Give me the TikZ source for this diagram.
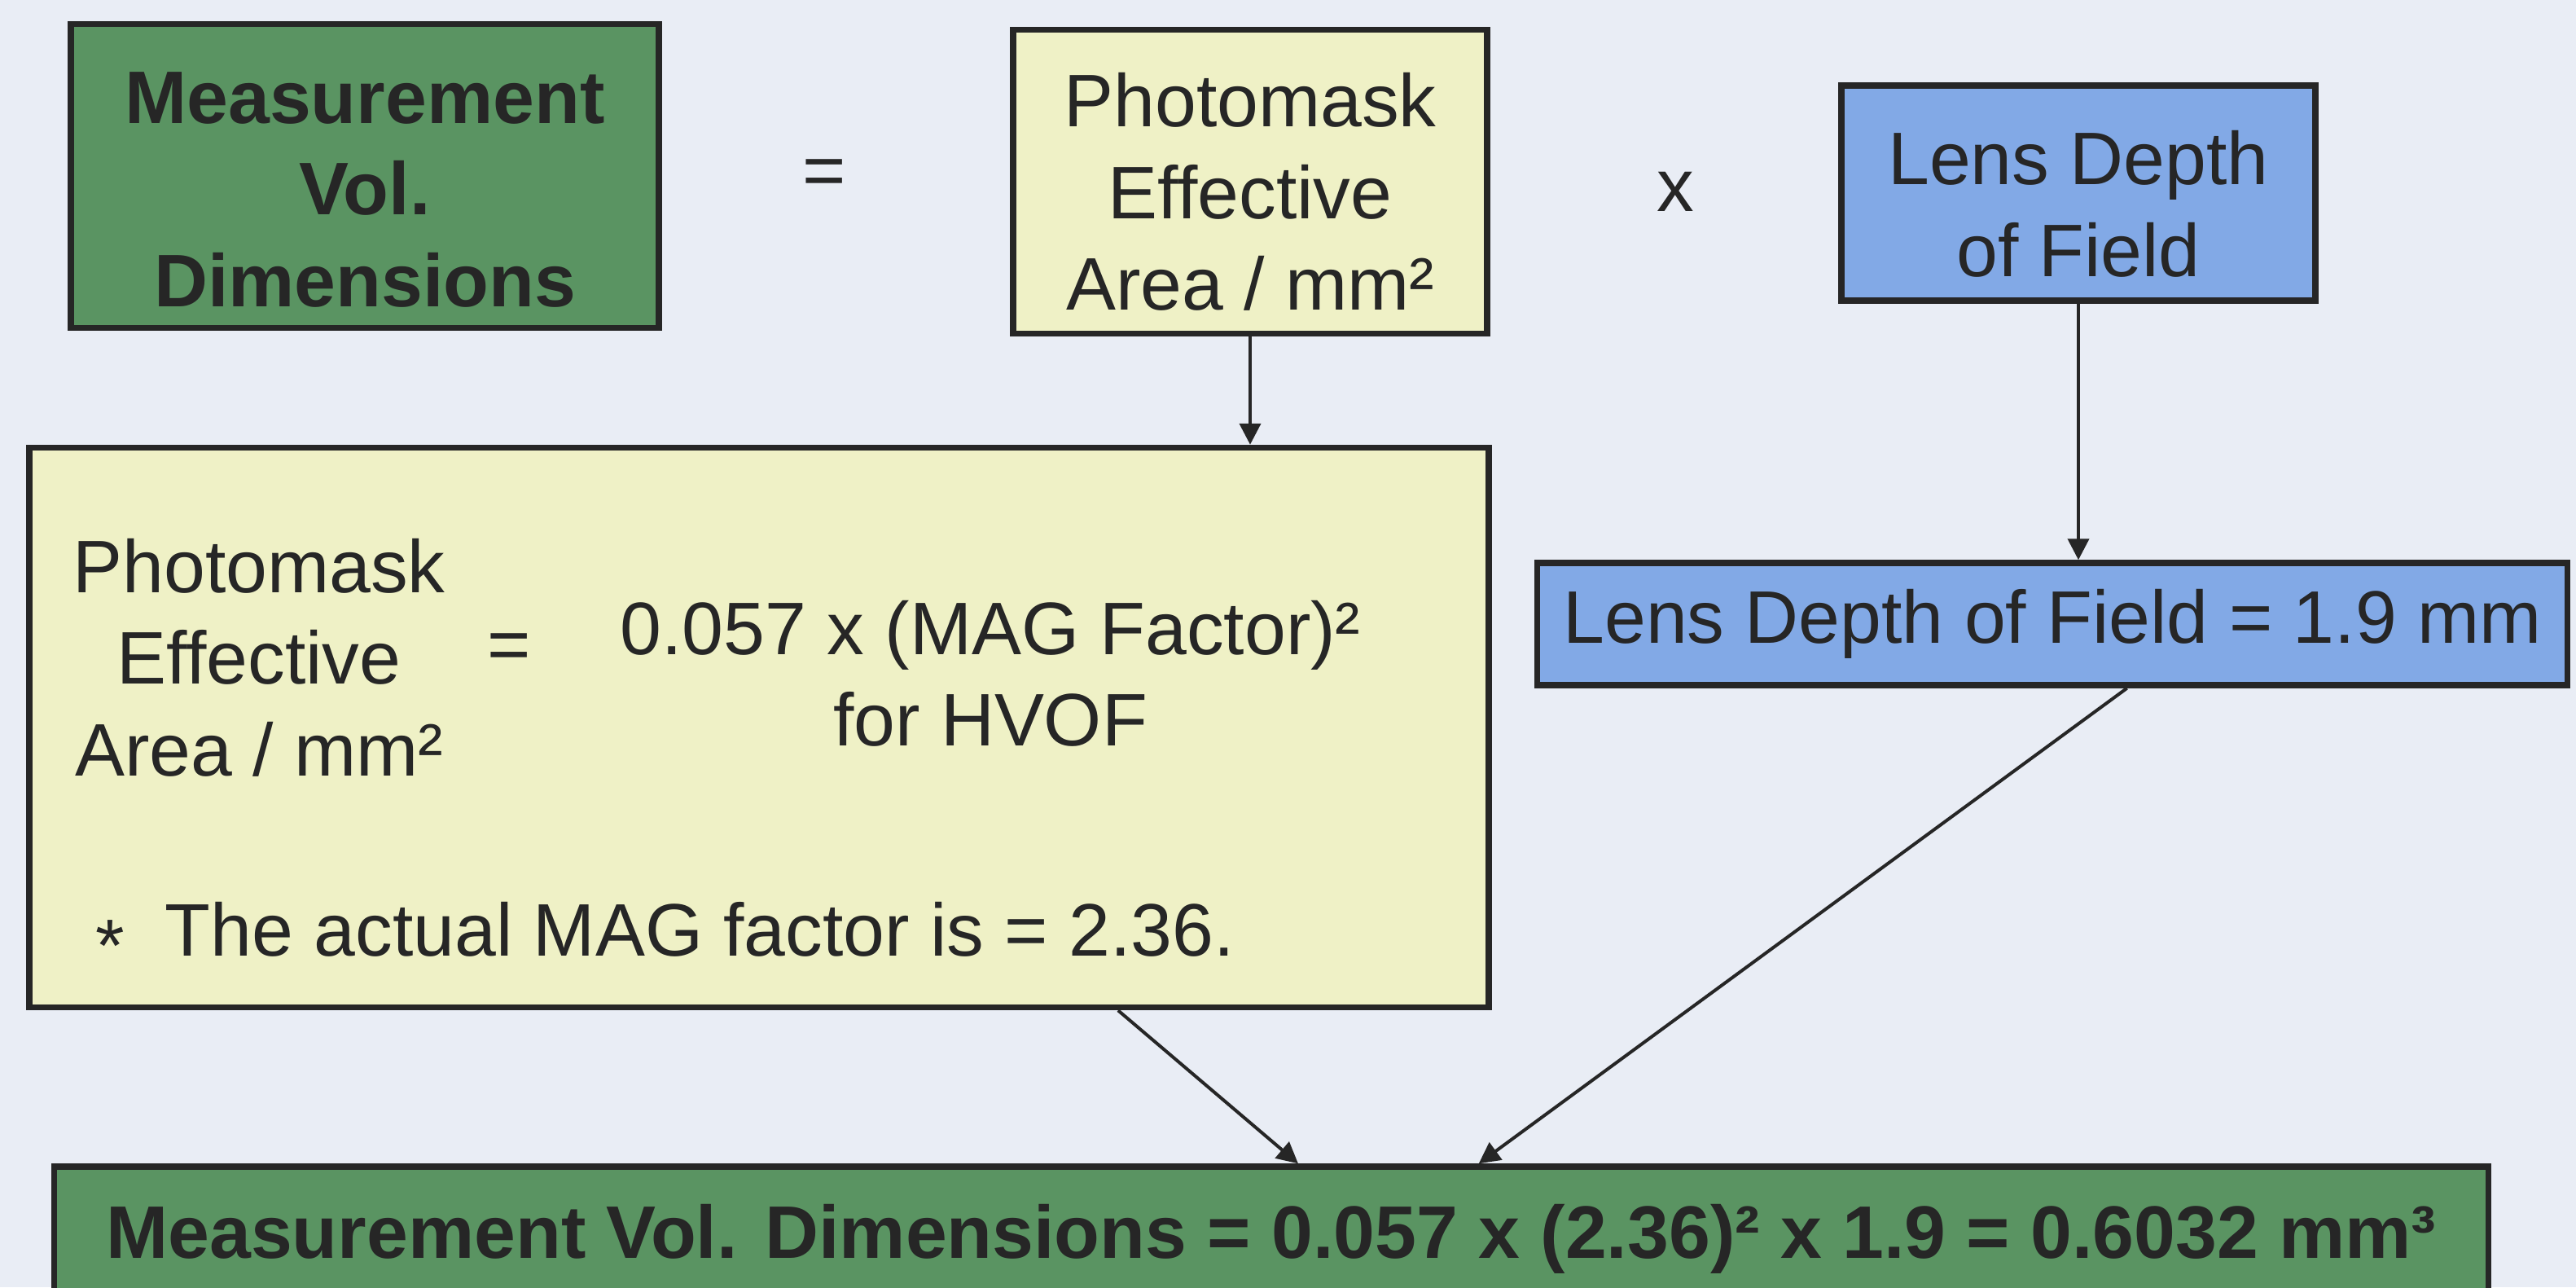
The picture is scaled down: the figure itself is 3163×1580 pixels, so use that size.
\documentclass[tikz,border=0pt]{standalone}
\usepackage{fontspec}
\setmainfont{Liberation Sans}
\usepackage{tikz}
\usepackage{xcolor}
\usetikzlibrary{
  positioning, arrows.meta, calc,
}
\definecolor{cPaper}  {HTML}{E9EDF5}
\definecolor{cInk}    {HTML}{262626}
\definecolor{cGreen}  {HTML}{5A9462}
\definecolor{cYellow} {HTML}{EFF1C6}
\definecolor{cBlue}   {HTML}{82A9E6}

\begin{document}
\begin{tikzpicture}[x=0.1mm, y=-0.1mm,
    every node/.style={font=\fontsize{26}{32}\selectfont, text=cInk},
    box/.style={draw=cInk, line width=0.75mm, inner sep=0pt, align=center},
    greenbox/.style={box, fill=cGreen, font=\fontsize{26}{32}\selectfont\bfseries},
    yellowbox/.style={box, fill=cYellow},
    bluebox/.style={box, fill=cBlue},
    link/.style={draw=cInk, line width=0.4mm, -{Triangle[length=2.6mm, width=2.6mm]}},
  ]
        % paper
        \fill[cPaper] (0,0) rectangle (3163,1580);
        \useasboundingbox (0,0) rectangle (3163,1580);
        % top row: volume = area x depth (rules push the text a bit down)
        \node[greenbox, minimum width=72.2mm, minimum height=37.3mm] (vol) at (448,216) {\rule{0pt}{9.6mm}Measurement\\Vol.\\Dimensions};
        \node (eqTop) at (1012,218) {=};
        \node[yellowbox, minimum width=58.2mm, minimum height=37.3mm] (area) at (1535,223) {\rule{0pt}{9.1mm}Photomask\\Effective\\Area / mm²};
        \node (times) at (2057,235) {x};
        \node[bluebox, minimum width=58.2mm, minimum height=26.4mm] (depth) at (2552,237) {\rule{0pt}{9.3mm}Lens Depth\\of Field};
        % middle row: the two values
        \node[yellowbox, minimum width=179.2mm, minimum height=68.7mm] (areaCalc) at (932,893) {};
        \node[align=center] (areaLbl) at (318,807) {Photomask\\Effective\\Area / mm²};
        \node (eqMid) at (625,800) {=};
        \node[align=center] (areaFormula) at (1216,827) {0.057 x (MAG Factor)²\\for HVOF};
        \node[anchor=west] (magNote) at (105,1150) {\raisebox{-0.2em}{*}\hspace{5mm}The actual MAG factor is = 2.36.};
        \node[bluebox, minimum width=126.5mm, minimum height=15mm] (depthVal) at (2520,766) {Lens Depth of Field = 1.9 mm};
        % result
        \node[greenbox, minimum width=298.9mm, minimum height=17.8mm] (result) at (1561,1521)
            {Measurement Vol. Dimensions = 0.057 x (2.36)² x 1.9 = 0.6032 mm³};
        % connectors
        \draw[link] (area.south) -- (area.south |- areaCalc.north);
        \draw[link] (depth.south) -- (depth.south |- depthVal.north);
        \draw[link] ($(areaCalc.south west)!0.745!(areaCalc.south east)$) -- ($(result.north west)!0.511!(result.north east)$);
        \draw[link] ($(depthVal.south west)!0.572!(depthVal.south east)$) -- ($(result.north west)!0.585!(result.north east)$);
\end{tikzpicture}
\end{document}
